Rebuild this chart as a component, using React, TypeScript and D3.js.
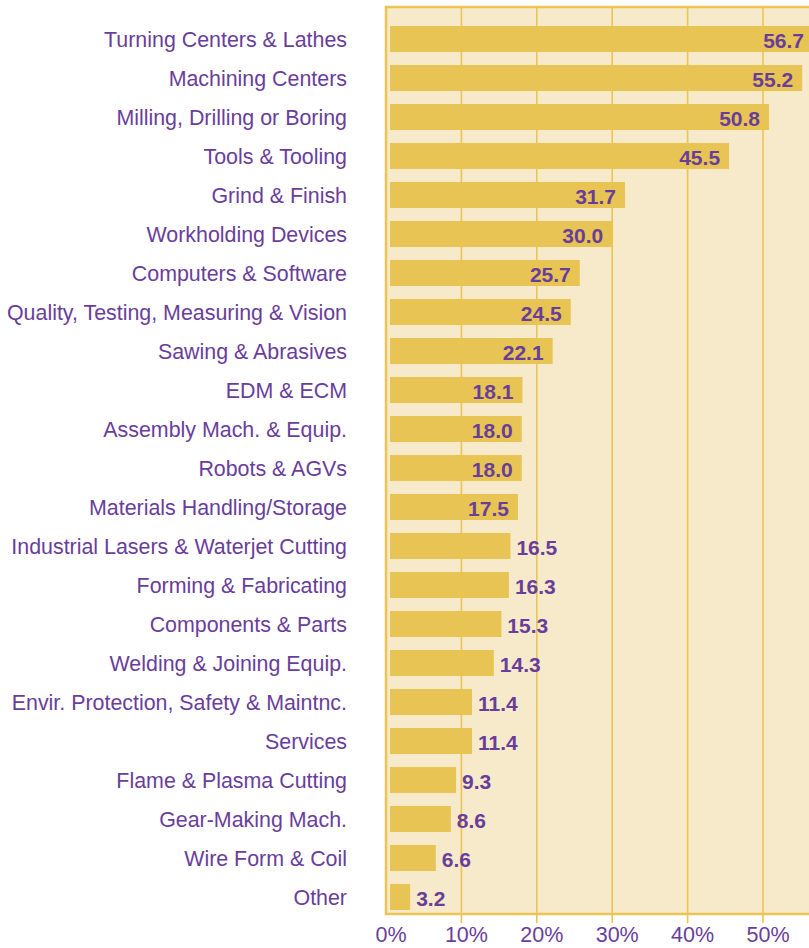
import React from "react";
import * as d3 from "d3";

const categories: string[] = [
  "Turning Centers & Lathes",
  "Machining Centers",
  "Milling, Drilling or Boring",
  "Tools & Tooling",
  "Grind & Finish",
  "Workholding Devices",
  "Computers & Software",
  "Quality, Testing, Measuring & Vision",
  "Sawing & Abrasives",
  "EDM & ECM",
  "Assembly Mach. & Equip.",
  "Robots & AGVs",
  "Materials Handling/Storage",
  "Industrial Lasers & Waterjet Cutting",
  "Forming & Fabricating",
  "Components & Parts",
  "Welding & Joining Equip.",
  "Envir. Protection, Safety & Maintnc.",
  "Services",
  "Flame & Plasma Cutting",
  "Gear-Making Mach.",
  "Wire Form & Coil",
  "Other",
];

const values: number[] = [
  56.7, 55.2, 50.8, 45.5, 31.7, 30.0, 25.7, 24.5, 22.1, 18.1, 18.0, 18.0, 17.5,
  16.5, 16.3, 15.3, 14.3, 11.4, 11.4, 9.3, 8.6, 6.6, 3.2,
];

const tickValues: number[] = [0, 10, 20, 30, 40, 50];
const tickLabels: string[] = ["0%", "10%", "20%", "30%", "40%", "50%"];

const W = 809;
const H = 948;
const PURPLE = "#693E9B";
const BAR = "#E7C453";
const BG = "#F6EACA";
const GRID = "#EBC453";
const FONT = "'Liberation Sans', Arial, Helvetica, sans-serif";

export default function App() {
  const x = d3.scaleLinear().domain([0, 10]).range([386, 461.4]);
  const y = d3
    .scaleBand<string>()
    .domain(categories)
    .range([19.5, 916.5])
    .paddingInner(13 / 39)
    .paddingOuter(6.5 / 39);

  const frameTop = 7;
  const frameBottom = 914;
  const bw = y.bandwidth();

  return (
    <svg
      width={W}
      height={H}
      style={{ position: "absolute", left: 0, top: 0, overflow: "hidden" }}
      fontFamily={FONT}
    >
      <rect x={0} y={0} width={W} height={H} fill="#ffffff" />
      {/* plot background */}
      <rect
        x={x(0)}
        y={frameTop}
        width={W - x(0) + 20}
        height={frameBottom - frameTop}
        fill={BG}
        stroke={GRID}
        strokeWidth={2.5}
      />
      {/* grid lines */}
      {tickValues.slice(1).map((t) => (
        <line
          key={t}
          x1={x(t)}
          x2={x(t)}
          y1={frameTop}
          y2={frameBottom + 9}
          stroke={GRID}
          strokeWidth={1.6}
        />
      ))}
      {/* bars */}
      {categories.map((c, i) => (
        <rect
          key={c}
          x={x(0) + 4}
          y={y(c)!}
          width={x(values[i]) - x(0) - 4}
          height={bw}
          fill={BAR}
        />
      ))}
      {/* category labels */}
      {categories.map((c) => (
        <text
          key={c}
          x={347}
          y={y(c)! + bw / 2 + 7.5}
          textAnchor="end"
          fontSize={21.4}
          fill={PURPLE}
        >
          {c}
        </text>
      ))}
      {/* value labels */}
      {categories.map((c, i) => {
        const v = values[i];
        const inside = v >= 17;
        const end = Math.min(x(v), 813);
        return (
          <text
            key={c}
            x={inside ? end - 9 : x(v) + 6}
            y={y(c)! + bw / 2 + 8.5}
            textAnchor={inside ? "end" : "start"}
            fontSize={21}
            fontWeight="bold"
            fill={PURPLE}
          >
            {v.toFixed(1)}
          </text>
        );
      })}
      {/* x axis labels */}
      {tickValues.map((t, i) => (
        <text
          key={t}
          x={x(t) + 5}
          y={942}
          textAnchor="middle"
          fontSize={21.5}
          fill={PURPLE}
        >
          {tickLabels[i]}
        </text>
      ))}
    </svg>
  );
}
